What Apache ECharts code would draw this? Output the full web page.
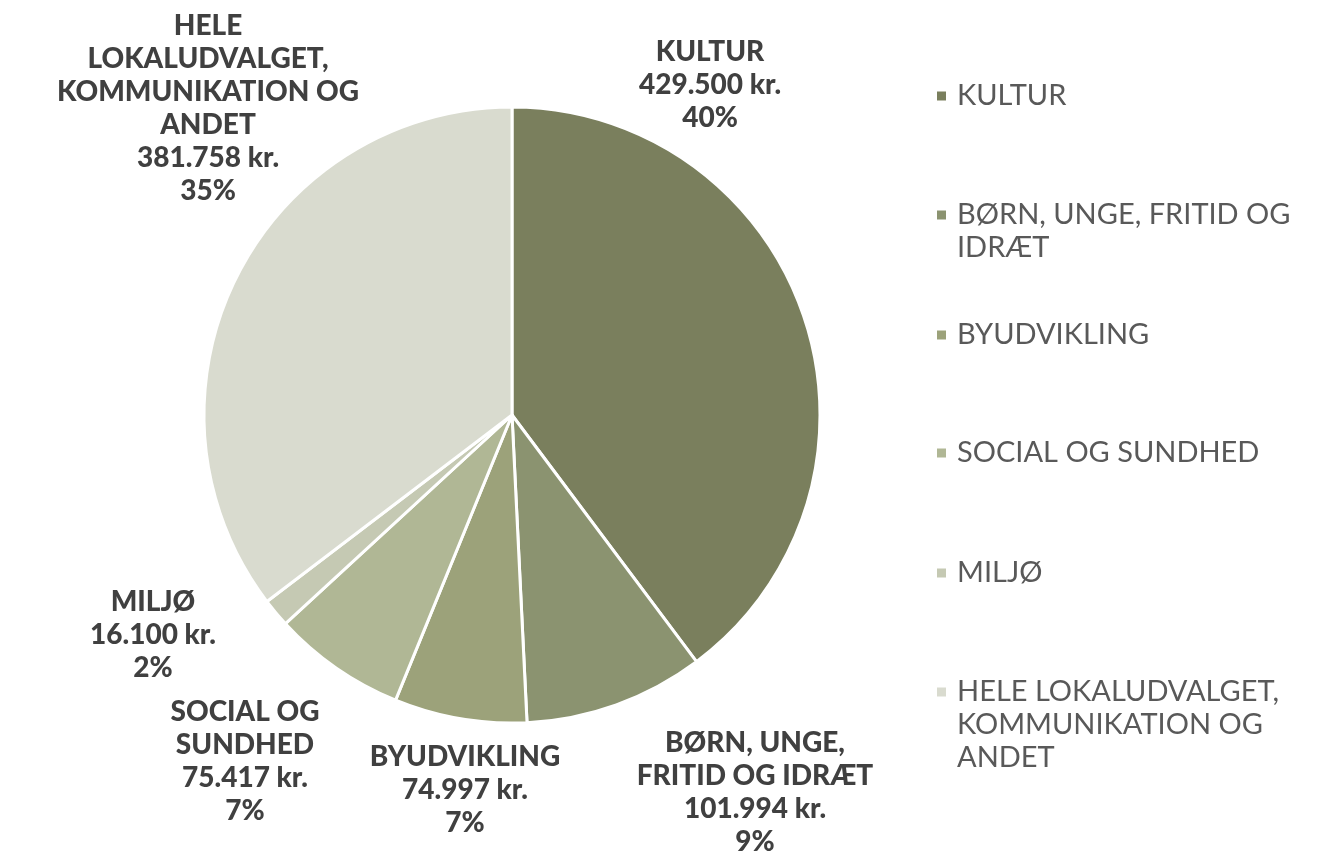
<!DOCTYPE html>
<html>
<head>
<meta charset="utf-8">
<script src="https://cdn.jsdelivr.net/npm/echarts@6/dist/echarts.min.js"></script>
<style>
  html, body { margin: 0; padding: 0; background: #fff; }
  #chart { width: 1325px; height: 852px; }
</style>
</head>
<body>
<div id="chart"></div>
<script>
  // data
  var categories = ['KULTUR', 'BØRN, UNGE, FRITID OG IDRÆT', 'BYUDVIKLING', 'SOCIAL OG SUNDHED', 'MILJØ', 'HELE LOKALUDVALGET, KOMMUNIKATION OG ANDET']
  var amounts = [429500, 101994, 74997, 75417, 16100, 381758]
  var labelNames = ['KULTUR', 'BØRN, UNGE,\nFRITID OG IDRÆT', 'BYUDVIKLING', 'SOCIAL OG\nSUNDHED', 'MILJØ', 'HELE\nLOKALUDVALGET,\nKOMMUNIKATION OG\nANDET']
  var legendNames = ['KULTUR', 'BØRN, UNGE, FRITID OG\nIDRÆT', 'BYUDVIKLING', 'SOCIAL OG SUNDHED', 'MILJØ', 'HELE LOKALUDVALGET,\nKOMMUNIKATION OG\nANDET']

  var colors = ['#7a7f5d', '#8b9370', '#9ca27a', '#b0b795', '#c5c9b3', '#d9dbcf']
  var font = 'Lato'

  // label centres
  var labelAt = [[710, 85], [755, 792], [465, 790], [245, 761], [153, 635], [208, 108]]
  // legend rows (first line centre)
  var legendRows = [96, 215, 335, 453, 573, 692]

  function fmt(n) {
    return String(n).replace(/\B(?=(\d{3})+(?!\d))/g, '.')
  }

  var chart = echarts.init(document.getElementById('chart'))

  var lh = 33
  var legends = categories.map(function (name, i) {
    var lines = legendNames[i].split('\n')
    // blank lines in front so the marker sits on the first line
    var text = lines.map(function () { return ' ' }).slice(1).concat(lines).join('\n')
    return {
      orient: 'vertical',
      left: 935,
      top: legendRows[i] - lh / 2 - (lines.length - 1) * lh,
      padding: 0,
      icon: 'rect',
      itemWidth: 11,
      itemHeight: 11,
      selectedMode: false,
      data: [name],
      formatter: function () { return text },
      textStyle: {
        fontFamily: font,
        fontSize: 29,
        lineHeight: lh,
        color: '#595959',
        padding: [0, 0, 0, 5]
      }
    }
  })

  chart.setOption({
    animation: false,
    color: colors,
    legend: legends,
    series: [
      {
        type: 'pie',
        center: [512, 415],
        radius: 308,
        startAngle: 90,
        clockwise: true,
        percentPrecision: 0,
        itemStyle: {
          borderColor: '#fff',
          borderWidth: 3
        },
        label: {
          show: true,
          position: 'outside',
          align: 'center',
          verticalAlign: 'middle',
          overflow: 'none',
          fontFamily: font,
          fontWeight: 900,
          fontSize: 28,
          lineHeight: 33,
          color: '#404040',
          formatter: function (p) {
            return labelNames[p.dataIndex] + '\n' + fmt(p.value) + ' kr.\n' + p.percent + '%'
          }
        },
        labelLine: { show: false },
        labelLayout: function (p) {
          var pos = labelAt[p.dataIndex]
          return { x: pos[0], y: pos[1], align: 'center', verticalAlign: 'middle' }
        },
        data: categories.map(function (c, i) {
          return { name: c, value: amounts[i] }
        })
      }
    ]
  })
</script>
</body>
</html>
